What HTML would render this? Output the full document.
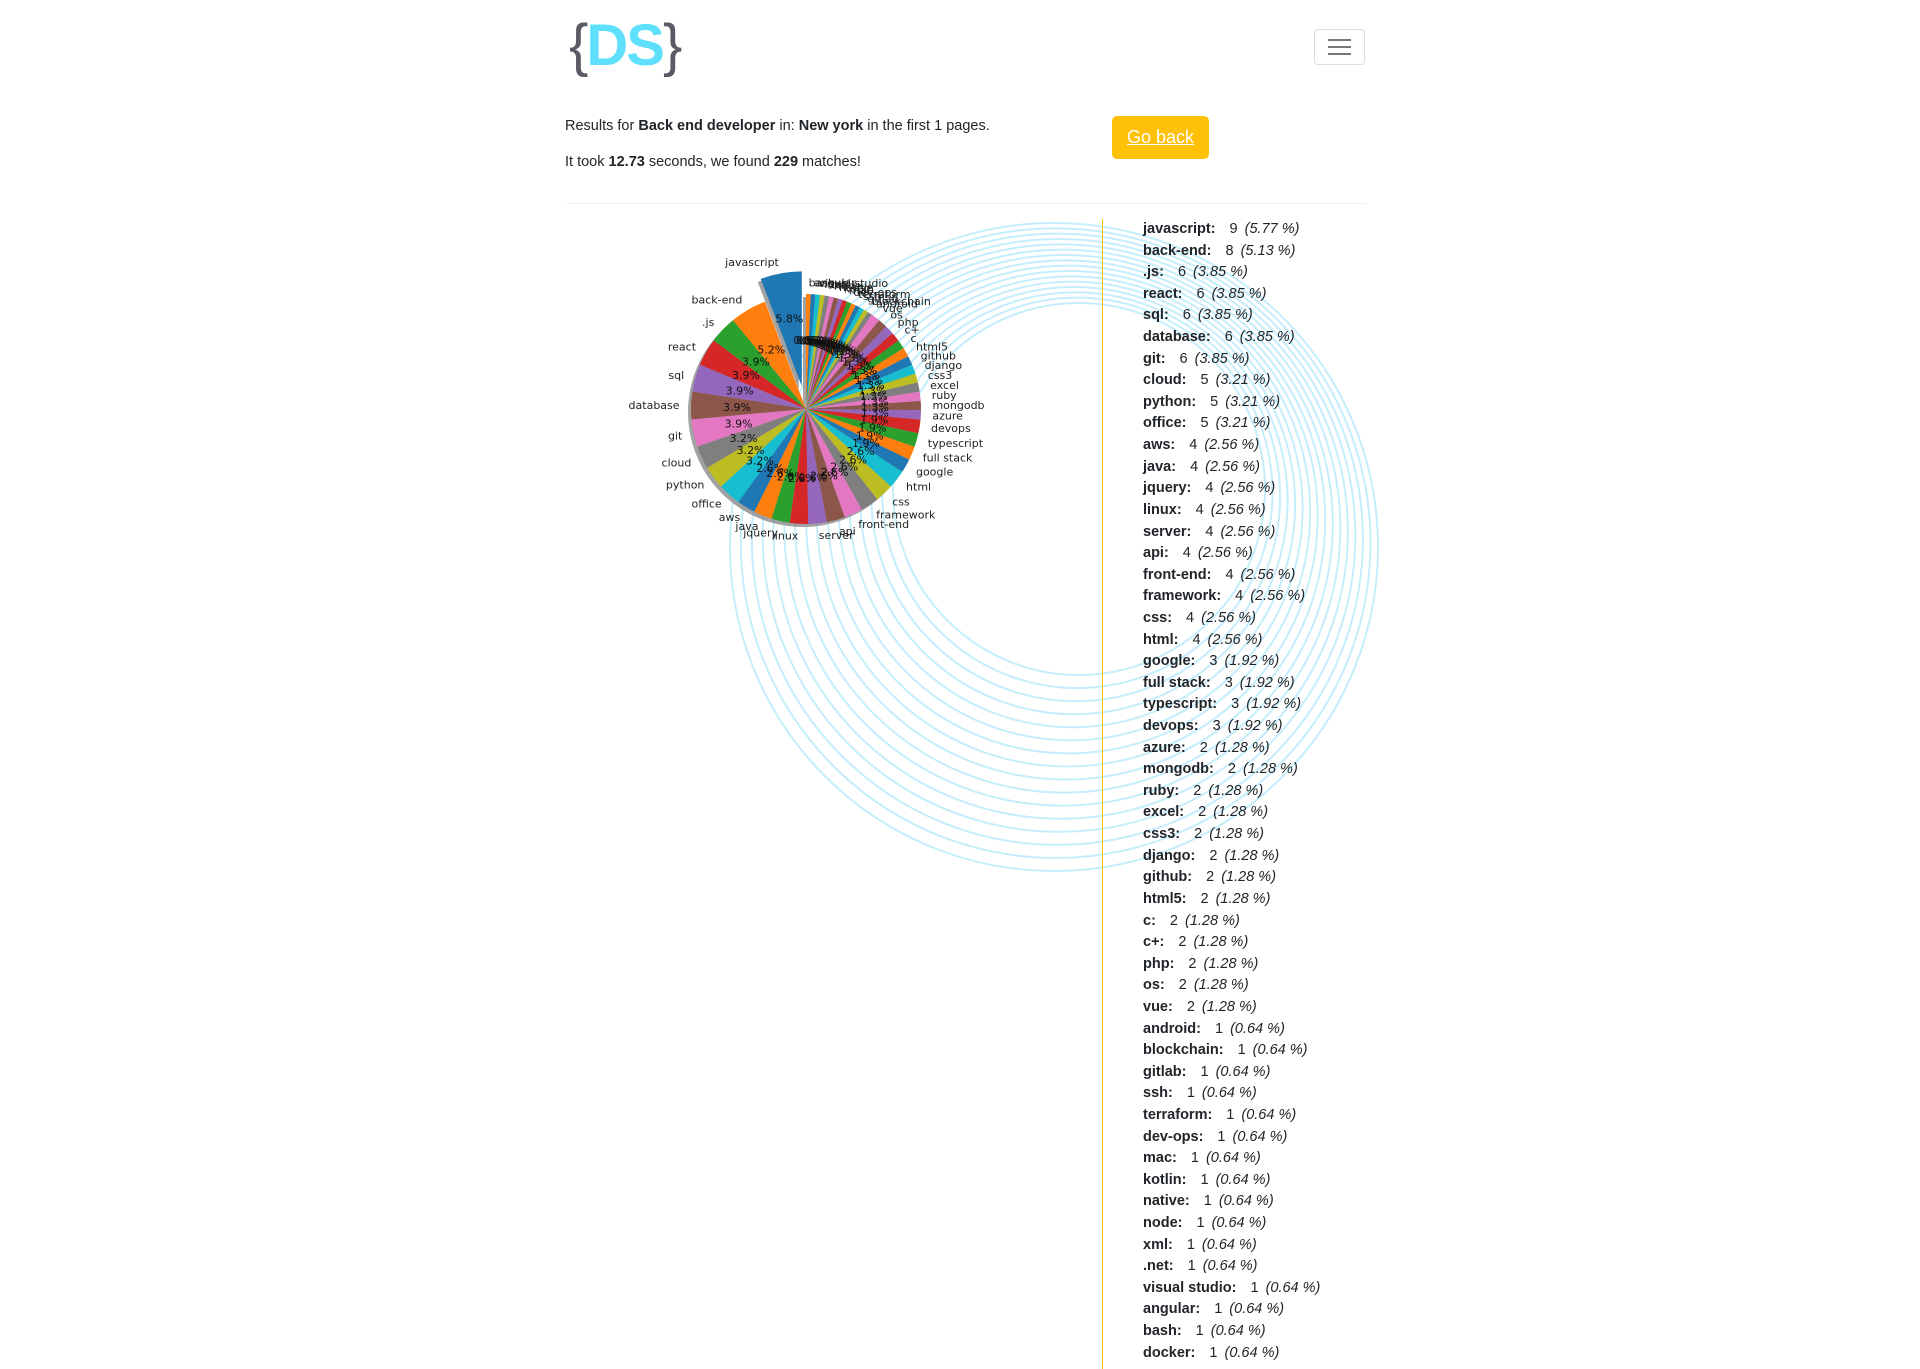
<!DOCTYPE html>
<html><head><meta charset="utf-8">
<style>
html,body{margin:0;padding:0;background:#fff;}
body{width:1920px;height:1369px;position:relative;overflow:hidden;font-family:"Liberation Sans","DejaVu Sans",sans-serif;color:#212529;}
#bg{position:absolute;left:0;top:0;}
.logo{position:absolute;left:569px;top:10px;font-size:58px;font-weight:bold;letter-spacing:-2px;line-height:72px;}
.logo .br{color:#5b5b66;font-weight:normal;}
.logo .ds{color:#5ee0fc;}
.menu{position:absolute;left:1314px;top:29px;width:49px;height:34px;border:1px solid #dcdcdc;border-radius:4px;}
.menu i{position:absolute;left:13px;width:23px;height:2px;background:#777;}
.txt{position:absolute;left:565px;font-size:14.5px;}
.goback{position:absolute;left:1112px;top:116px;width:97px;height:43px;background:#ffc107;border-radius:5px;color:#fff;font-size:18px;text-decoration:underline;text-align:center;line-height:43px;}
.hr{position:absolute;left:567px;top:203px;width:800px;height:1px;background:#f1f1f1;}
.vline{position:absolute;left:1102px;top:219px;width:1px;height:1150px;background:#ffc107;}
.list{position:absolute;left:1143px;top:218px;font-size:14.5px;}
.row{height:21.62px;line-height:22px;white-space:nowrap;}
.row b{margin-right:14px;}
.row i{margin-left:3px;}
</style></head><body>
<svg id="bg" width="1920" height="1369"></svg>
<div class="logo"><span class="br">{</span><span class="ds">DS</span><span class="br">}</span></div>
<div class="menu"><i style="top:9px"></i><i style="top:16px"></i><i style="top:23px"></i></div>
<div class="txt" style="top:118px">Results for <b>Back end developer</b> in: <b>New york</b> in the first 1 pages.</div>
<div class="txt" style="top:154px">It took <b>12.73</b> seconds, we found <b>229</b> matches!</div>
<div class="goback">Go back</div>
<div class="hr"></div>
<div class="vline"></div>
<div class="list" id="list"></div>
<script>
const categories=["javascript","back-end",".js","react","sql","database","git","cloud","python","office","aws","java","jquery","linux","server","api","front-end","framework","css","html","google","full stack","typescript","devops","azure","mongodb","ruby","excel","css3","django","github","html5","c","c+","php","os","vue","android","blockchain","gitlab","ssh","terraform","dev-ops","mac","kotlin","native","node","xml",".net","visual studio","angular","bash","docker"];
const counts=[9,8,6,6,6,6,6,5,5,5,4,4,4,4,4,4,4,4,4,4,3,3,3,3,2,2,2,2,2,2,2,2,2,2,2,2,2,1,1,1,1,1,1,1,1,1,1,1,1,1,1,1,1];
const pieCounts=[9,8,6,6,6,6,6,5,5,5,4,4,4,4,4,4,4,4,4,4,3,3,3,3,2,2,2,2,2,2,2,2,2,2,2,2,2,1,1,1,1,1,1,1,1,1,1,1,1,1,1,1];
const palette=["#1f77b4","#ff7f0e","#2ca02c","#d62728","#9467bd","#8c564b","#e377c2","#7f7f7f","#bcbd22","#17becf"];
const NS="http://www.w3.org/2000/svg";
const svg=document.getElementById('bg');
const total=counts.reduce((a,b)=>a+b,0);
const pieTotal=pieCounts.reduce((a,b)=>a+b,0);
const list=document.getElementById('list');
categories.forEach((c,i)=>{
  const d=document.createElement('div');
  d.className='row';
  
  
  d.innerHTML='<b>'+c+':</b>'+counts[i]+' <i>('+(counts[i]/total*100).toFixed(2)+' %)</i>';
  list.appendChild(d);
});
const rings=16;
for(let k=0;k<rings;k++){
  const t=k/(rings-1);
  const el=document.createElementNS(NS,'circle');
  
  
  el.setAttribute('cx',1054+t*25);el.setAttribute('cy',547-t*58);el.setAttribute('r',324-t*138);
  el.setAttribute('fill','none');el.setAttribute('stroke','#c4eefc');el.setAttribute('stroke-width','2');
  svg.appendChild(el);
}
const cx=806,cy=409,R=115;
function pt(a,r,ox,oy){return [ox+r*Math.cos(a),oy-r*Math.sin(a)];}
function wedge(a0,a1,ox,oy){
  const p0=pt(a0,R,ox,oy),p1=pt(a1,R,ox,oy);
  const large=(a1-a0)>Math.PI?1:0;
  return `M${ox},${oy}L${p0[0]},${p0[1]}A${R},${R} 0 ${large} 0 ${p1[0]},${p1[1]}Z`;
}
const g=document.createElementNS(NS,'g');


svg.appendChild(g);
let ang=Math.PI/2;
const slices=[];
pieCounts.forEach((v,i)=>{
  const a0=ang,a1=ang+v/pieTotal*2*Math.PI;ang=a1;
  const mid=(a0+a1)/2;const ex=i===0?0.2*R:0;
  slices.push({i,a0,a1,mid,ox:cx+ex*Math.cos(mid),oy:cy-ex*Math.sin(mid)});
});
slices.forEach(s=>{
  const sh=document.createElementNS(NS,'path');
  
  
  sh.setAttribute('d',wedge(s.a0,s.a1,s.ox-3,s.oy+3));
  sh.setAttribute('fill','#8a8a8a');sh.setAttribute('opacity','0.8');
  g.appendChild(sh);
});
slices.forEach(s=>{
  const p=document.createElementNS(NS,'path');
  
  
  p.setAttribute('d',wedge(s.a0,s.a1,s.ox,s.oy));
  p.setAttribute('fill',palette[s.i%10]);
  g.appendChild(p);
});
slices.forEach(s=>{
  const lp=pt(s.mid,1.1*R,s.ox,s.oy);
  const t=document.createElementNS(NS,'text');
  
  
  t.setAttribute('x',lp[0]);t.setAttribute('y',lp[1]+4);
  t.setAttribute('text-anchor',Math.cos(s.mid)>0?'start':'end');
  t.setAttribute('font-family','DejaVu Sans, sans-serif');t.setAttribute('font-size','11');t.setAttribute('fill','#222');
  t.textContent=categories[s.i];g.appendChild(t);
  const pp=pt(s.mid,0.6*R,s.ox,s.oy);
  const q=document.createElementNS(NS,'text');
  
  
  q.setAttribute('x',pp[0]);q.setAttribute('y',pp[1]+4);
  q.setAttribute('text-anchor','middle');
  q.setAttribute('font-family','DejaVu Sans, sans-serif');q.setAttribute('font-size','11');q.setAttribute('fill','#111');
  q.textContent=(pieCounts[s.i]/pieTotal*100).toFixed(1)+'%';g.appendChild(q);
});
</script>
</body></html>
